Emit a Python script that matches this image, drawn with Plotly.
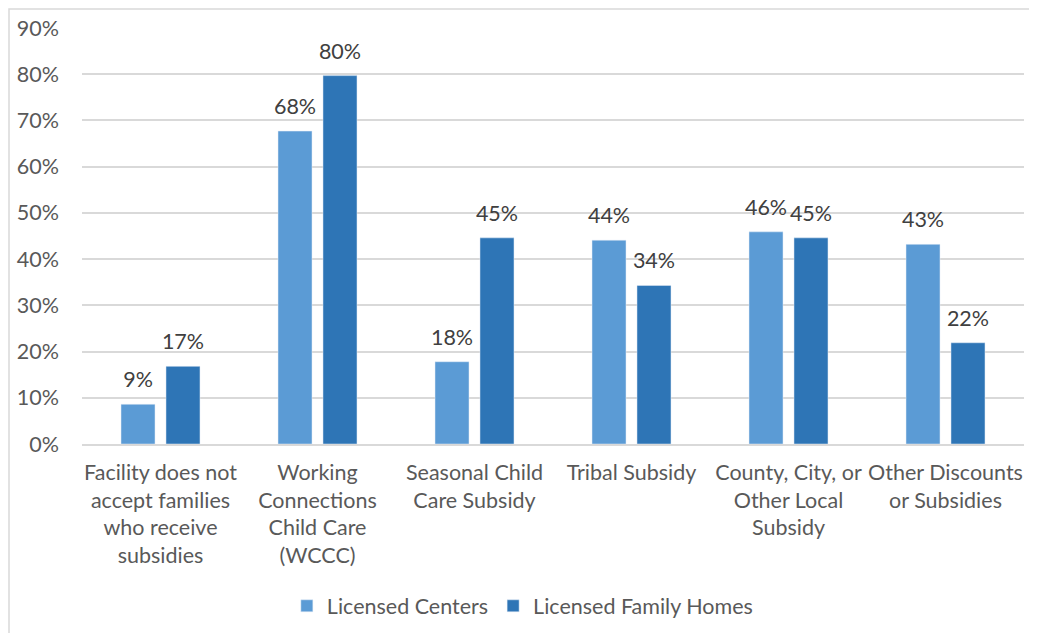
import plotly.graph_objects as go

categories = [
    "Facility does not<br>accept families<br>who receive<br>subsidies",
    "Working<br>Connections<br>Child Care<br>(WCCC)",
    "Seasonal Child<br>Care Subsidy",
    "Tribal Subsidy",
    "County, City, or<br>Other Local<br>Subsidy",
    "Other Discounts<br>or Subsidies",
]
centers = [0.086, 0.677, 0.178, 0.441, 0.459, 0.432]
family_homes = [0.168, 0.797, 0.446, 0.343, 0.446, 0.219]

FONT = "Lato"
FS = 21.5
TXT = "#595959"
COLORS = {"Licensed Centers": "#5B9BD5", "Licensed Family Homes": "#2E75B6"}

fig = go.Figure()
for name, vals in [("Licensed Centers", centers), ("Licensed Family Homes", family_homes)]:
    fig.add_trace(go.Bar(
        name=name, x=categories, y=vals, offsetgroup=name,
        marker_color=COLORS[name], hoverinfo="skip",
    ))
for name, vals in [("Licensed Centers", centers), ("Licensed Family Homes", family_homes)]:
    fig.add_trace(go.Scatter(
        x=categories, y=vals, offsetgroup=name, mode="markers+text",
        marker=dict(size=17, color="rgba(0,0,0,0)"),
        text=[f"{v:.0%}" for v in vals], textposition="top center",
        textfont=dict(family=FONT, size=FS, color="#404040"),
        showlegend=False, cliponaxis=False, hoverinfo="skip",
    ))

fig.update_layout(
    width=1021, height=625,
    margin=dict(l=74, r=5, t=20, b=189),
    paper_bgcolor="white", plot_bgcolor="white",
    barmode="group", bargap=0.427, bargroupgap=0.244,
    scattermode="group", scattergap=0.427,
    font=dict(family=FONT, size=FS, color=TXT),
    showlegend=True,
    legend=dict(orientation="h", x=0.468, xanchor="center", y=-0.389, yanchor="middle",
                font=dict(family=FONT, size=FS, color=TXT), traceorder="normal"),
    shapes=[dict(type="rect", xref="paper", yref="paper",
                 x0=-0.0775, x1=1.03, y0=-0.5, y1=1.0457,
                 line=dict(color="#d9d9d9", width=1.5), fillcolor="rgba(0,0,0,0)", layer="below")],
)
fig.update_yaxes(range=[0, 0.9], dtick=0.1, tickformat=".0%", showgrid=True,
                 gridcolor="#d9d9d9", gridwidth=1.5, zeroline=False, showline=False,
                 ticks="", ticklabelstandoff=22,
                 tickfont=dict(family=FONT, size=FS, color=TXT))
fig.update_xaxes(showline=True, linecolor="#d9d9d9", linewidth=1.5, ticks="",
                 ticklabelstandoff=8,
                 tickfont=dict(family=FONT, size=FS, color=TXT), tickangle=0)

fig.write_html("out.html")
